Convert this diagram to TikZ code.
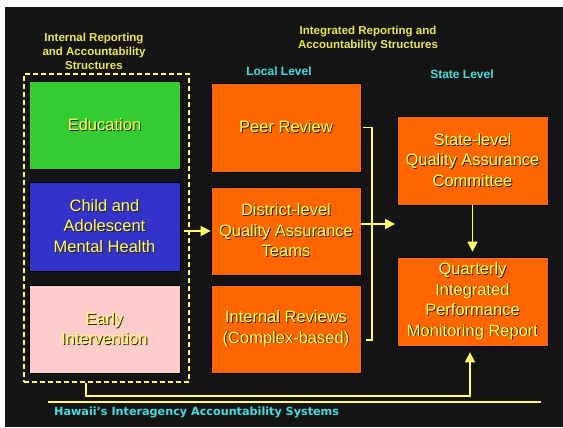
\documentclass[tikz,border=0pt]{standalone}
\usepackage{fontspec}
\setmainfont{Liberation Sans}
\newfontfamily\footfont{DejaVu Sans}
\usetikzlibrary{arrows.meta}

\definecolor{panelbg}{HTML}{141414}
\definecolor{edugreen}{HTML}{33CC33}
\definecolor{camhblue}{HTML}{3333CC}
\definecolor{eipink}{HTML}{FFCCCC}
\definecolor{qaorange}{HTML}{FF6600}
\definecolor{boxtext}{HTML}{FFFF66}
\definecolor{txtshadow}{HTML}{2A2000}
\definecolor{headyellow}{HTML}{E8E84A}
\definecolor{levelcyan}{HTML}{44DDDD}
\definecolor{linkyellow}{HTML}{FFFF66}

% text with a small drop shadow
\newcommand\shtxt[1]{\rlap{\hspace{0.9pt}\raisebox{-0.9pt}{\color{txtshadow}#1}}#1}

\tikzset{
  unit/.style={draw=black, line width=0.8pt, minimum width=151pt, minimum height=88pt,
    inner sep=0pt, align=center, text=boxtext, font=\fontsize{16.5}{20.5}\selectfont},
  heading/.style={text=headyellow, align=center, font=\bfseries\fontsize{11.5}{14}\selectfont},
  level/.style={text=levelcyan, font=\bfseries\fontsize{12}{14}\selectfont},
  link/.style={draw=linkyellow, line width=1.6pt},
  linkarrow/.style={link, -{Triangle[length=10pt,width=10pt]}},
}

\begin{document}
\begin{tikzpicture}[x=1pt,y=-1pt]
\useasboundingbox (0,0) rectangle (563,428);
\fill[panelbg] (5,7) rectangle (563,427);

% headings
\node[heading] (inthead) at (94,51) {Internal Reporting\\and Accountability\\Structures};
\node[heading] (intghead) at (368,39) {Integrated Reporting and\\Accountability Structures};
\node[level] (local) at (279,71) {Local Level};
\node[level] (state) at (462,74) {State Level};

% internal structures
\node[draw=linkyellow, line width=1.6pt, dash pattern=on 5pt off 3pt,
  minimum width=165pt, minimum height=308pt, inner sep=0pt] (frame) at (106.5,228) {};
\node[unit, fill=edugreen] (edu) at (104.5,125) {\shtxt{Education}};
\node[unit, fill=camhblue, minimum height=89pt] (camh) at (104.5,226.5)
  {\shtxt{Child and}\\\shtxt{Adolescent}\\\shtxt{Mental Health}};
\node[unit, fill=eipink] (ei) at (104.5,329) {\shtxt{Early}\\\shtxt{Intervention}};

% local level
\node[unit, fill=qaorange, minimum width=150pt, minimum height=89pt] (peer) at (286,127.5)
  {\shtxt{Peer Review}};
\node[unit, fill=qaorange, minimum width=150pt] (dqa) at (286,231)
  {\shtxt{District-level}\\\shtxt{Quality Assurance}\\\shtxt{Teams}};
\node[unit, fill=qaorange, minimum width=150pt] (irev) at (286,329)
  {\shtxt{Internal Reviews}\\\shtxt{(Complex-based)}};

% state level
\node[unit, fill=qaorange, minimum height=89pt] (sqa) at (472.5,160.5)
  {\shtxt{State-level}\\\shtxt{Quality Assurance}\\\shtxt{Committee}};
\node[unit, fill=qaorange, minimum height=89pt] (qipm) at (472.5,301.5)
  {\shtxt{Quarterly}\\\shtxt{Integrated}\\\shtxt{Performance}\\\shtxt{Monitoring Report}};

% connectors
\coordinate (brkbot) at (372,340);
\coordinate (join) at (395,224);
\coordinate (route) at (470,396);
\draw[linkarrow, shorten <=4pt] (camh.east |- dqa.west) -- (dqa.west);
\draw[link] ([xshift=2pt]peer.east) -| (brkbot) -- ++(-6,0);
\draw[linkarrow] (dqa.east |- join) -- (join);
\draw[linkarrow, shorten >=5pt] (sqa) -- (qipm);
\draw[linkarrow, shorten >=6pt] ([xshift=-20.5pt]frame.south) |- (route) -- (route |- qipm.south);

% footer
\draw[link] (48,402) -- (541,402);
\node[anchor=west, text=levelcyan, font=\footfont\bfseries\fontsize{11.2}{13}\selectfont, inner sep=0pt]
  (caption) at (54,412) {Hawaii’s Interagency Accountability Systems};
\end{tikzpicture}
\end{document}
